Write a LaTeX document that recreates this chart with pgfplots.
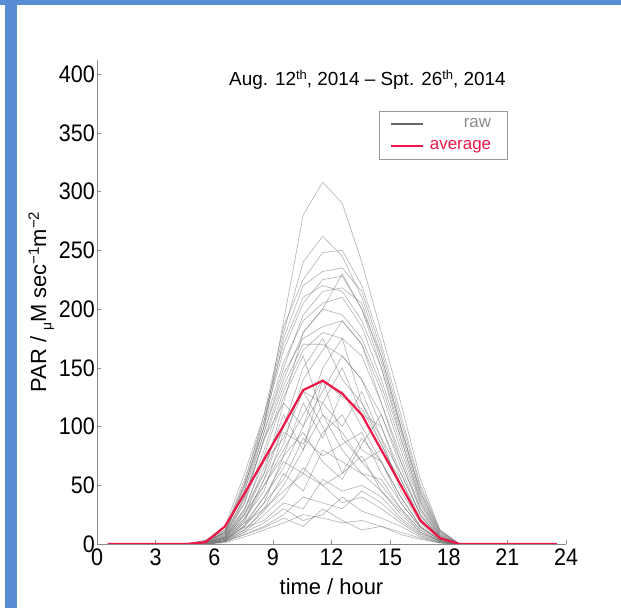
\documentclass[border=0pt]{standalone}
\usepackage{pgfplots}
\usepackage{pgfplotstable}
\usepackage{fontspec}
\pgfplotsset{compat=1.18}
\setmainfont{Liberation Sans}
\newfontfamily\tickfont[FakeStretch=0.9]{Liberation Sans}
\definecolor{frameblue}{RGB}{88,141,212}
\definecolor{avgred}{RGB}{238,22,72}
\newcommand\sups[2][15]{\raisebox{0.62ex}{\fontsize{#1}{#1}\selectfont #2}}

% hourly PAR, one column per day (col 0 = time)
\pgfplotstableread[header=false]{
4.55  0 0 0 0 0 0 0 0 0 0 0 0 0 0 0 0 0 0 0 0 0 0 0 0 0 0 0 0 0 0 0 0 0 0 0 0
5.55  2 3 3 2 2 3 1 2 1 2 1 2 1 1 0 1 0 0 0 0 0 0 0 0 1 1 0 1 0 0 1 2 0 0 2 1
6.55  10 12 15 10 9 12 8 11 7 10 6 9 5 6 4 5 3 4 3 2 3 2 2 1 4 5 3 6 2 3 5 7 4 2 8 6
7.55  45 55 60 50 48 52 40 50 38 45 35 40 25 30 20 22 18 15 12 10 14 8 10 6 20 25 15 28 12 16 22 30 18 8 35 26
8.55  100 105 110 100 105 110 95 100 90 95 80 88 60 70 50 45 40 35 30 25 20 15 18 12 55 65 35 75 28 40 55 60 30 14 90 50
9.55  190 180 185 175 165 170 150 155 140 145 130 135 100 90 80 95 70 55 60 40 35 25 30 18 100 110 75 125 50 65 85 120 45 22 120 75
10.55 280 240 225 220 205 210 195 190 180 175 165 170 150 130 110 85 60 90 45 65 30 40 20 25 130 80 120 160 80 100 140 180 60 15 100 95
11.55 308 262 248 232 225 220 215 205 200 185 180 170 175 120 140 120 95 75 80 50 55 35 25 22 100 140 90 110 110 130 165 200 50 30 150 70
12.55 290 245 250 235 228 215 218 210 195 190 175 160 140 150 125 100 110 85 70 60 45 30 40 18 60 90 130 80 95 160 190 230 35 20 175 55
13.55 240 210 220 215 200 190 205 185 175 170 160 140 120 110 115 130 80 95 60 75 50 45 28 20 90 70 100 60 70 140 170 200 40 12 120 85
14.55 180 160 170 165 160 150 155 140 135 130 120 110 90 100 85 90 70 60 55 45 40 35 22 15 70 50 70 45 80 100 120 150 30 15 85 110
15.55 120 100 110 105 100 95 98 90 85 80 75 70 60 55 50 45 40 35 30 25 22 20 15 10 40 30 35 28 55 60 70 90 18 8 50 65
16.55 55 45 50 48 42 40 44 38 35 33 30 28 25 22 20 18 15 14 12 10 9 8 6 5 15 12 14 10 20 25 30 36 7 4 20 24
17.55 12 10 12 11 9 8 10 8 7 6 6 5 5 4 4 3 3 3 2 2 2 1 1 1 3 2 3 2 4 5 6 7 1 1 4 5
18.55 0 0 0 0 0 0 0 0 0 0 0 0 0 0 0 0 0 0 0 0 0 0 0 0 0 0 0 0 0 0 0 0 0 0 0 0
}\rawdata

\pgfplotstableread{
t     par
0.55  0
1.55  0
2.55  0
3.55  0
4.55  0
5.55  1.5
6.55  15
7.55  43
8.55  72
9.55  101
10.55 131
11.55 139
12.55 128
13.55 110
14.55 80
15.55 50
16.55 20
17.55 5
18.55 0
19.55 0
20.55 0
21.55 0
22.55 0
23.55 0
}\avgdata

\begin{document}
\begin{tikzpicture}
\path[use as bounding box] (0bp,0bp) rectangle (621bp,608bp);
\fill[frameblue] (0bp,603bp) rectangle (621bp,608bp);
\fill[frameblue] (5bp,0bp) rectangle (17bp,608bp);
\begin{axis}[
    at={(97bp,64bp)}, anchor=south west,
    scale only axis, width=469bp, height=484bp,
    xmin=0, xmax=24, ymin=0, ymax=412,
    axis lines=left,
    axis line style={-, draw=black!45, line width=0.6bp},
    xtick={0,3,...,24}, ytick={0,50,...,400},
    tick align=inside, major tick length=4bp,
    tick style={black!45, line width=0.5bp},
    /pgf/number format/assume math mode=true,
    ticklabel style={font=\tickfont\fontsize{24}{24}\selectfont, inner sep=2bp},
    xticklabel style={yshift=-3bp},
    xlabel={time / hour},
    xlabel style={at={(axis description cs:0.5,-0.105)}, anchor=base,
        font=\fontsize{22}{22}\selectfont},
    ylabel={PAR / \raisebox{-0.45ex}{\fontsize{14}{14}\selectfont μ}M sec\sups{−1}m\sups{−2}},
    ylabel style={at={(axis description cs:-0.119,0.5)}, anchor=center,
        font=\fontsize{22}{22}\selectfont},
    legend style={at={(axis cs:21,369)}, anchor=north east,
        draw=black!40, line width=0.5bp, fill=white,
        font=\fontsize{17}{20}\selectfont, inner xsep=10bp, inner ysep=6bp,
        row sep=7bp,
        nodes={inner xsep=6bp}},
    legend cell align=right,
    legend image code/.code={\path (0bp,0bp) -- (10bp,0bp);
        \draw[#1] (10bp,0bp) -- (32bp,0bp);},
    raw/.style={black!55, line width=0.6bp, opacity=0.55, forget plot},
]
\pgfplotsinvokeforeach{1,...,36}{
    \addplot[raw] table[x index=0, y index=#1] {\rawdata};
}
\addlegendimage{black!60, line width=1.2bp}
\addlegendentry{\textcolor{black!45}{raw}}
\addplot[avgred, line width=2.2bp] table[x=t, y=par] {\avgdata};
\addlegendentry{\textcolor{avgred}{average}}
\node[anchor=base, font=\fontsize{19}{19}\selectfont]
    at (axis cs:13.84,390) {Aug. 12\sups[13]{th}, 2014 – Spt. 26\sups[13]{th}, 2014};
\end{axis}
\end{tikzpicture}
\end{document}
